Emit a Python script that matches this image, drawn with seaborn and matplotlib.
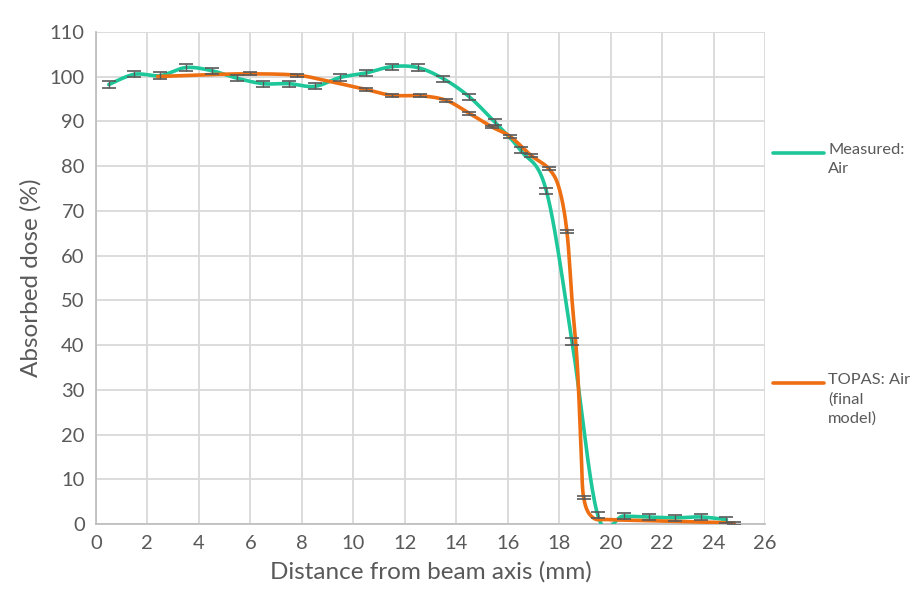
import numpy as np
import pandas as pd
import matplotlib
matplotlib.use("Agg")
import matplotlib.pyplot as plt
from matplotlib.lines import Line2D
import seaborn as sns

# measured depth-dose (every 1 mm)
MEAS_X = [0.5, 1.5, 2.5, 3.5, 4.5, 5.5, 6.5, 7.5, 8.5, 9.5, 10.5, 11.5, 12.5,
          13.5, 14.5, 15.5, 16.5, 17.5, 18.5, 19.5, 20.5, 21.5, 22.5, 23.5, 24.5]
MEAS_Y = [98.2, 100.5, 100.2, 102.0, 101.3, 99.6, 98.4, 98.4, 97.8, 99.8, 100.8,
          102.2, 102.0, 99.5, 95.5, 89.8, 83.5, 74.5, 40.8, 2.0, 1.8, 1.6, 1.4,
          1.6, 1.0]
MEAS_ERR = 0.7

# TOPAS simulation
TOPAS_X = [2.4, 4.3, 6.0, 7.8, 9.0, 10.5, 11.5, 12.6, 13.6, 14.5, 15.4, 16.1,
           16.9, 17.6, 18.0, 18.3, 18.5, 18.7, 18.85, 18.95, 19.3, 20.0, 22.0,
           24.0, 24.8]
TOPAS_Y = [100.0, 100.4, 100.6, 100.3, 99.0, 97.1, 95.8, 95.7, 94.7, 91.8, 88.7,
           86.6, 82.4, 79.4, 75.0, 65.4, 50.0, 36.0, 17.0, 6.0, 1.5, 1.0, 0.7,
           0.4, 0.2]
TOPAS_BAR = [False, False, True, True, False, True, True, True, True, True, True,
             True, True, True, False, True, False, False, False, True, False,
             False, False, False, True]
TOPAS_ERR = 0.3

X_TICKS = list(range(0, 27, 2))
Y_TICKS = list(range(0, 111, 10))

GREEN = "#1DC79A"
ORANGE = "#EE6E12"
TEXT = "#595959"


def _smooth(xs, ys, n=24):
    # Excel style smoothed line (cubic bezier through the points)
    p = np.column_stack([xs, ys]).astype(float)
    pts = []
    for i in range(len(p) - 1):
        p0 = p[i - 1] if i > 0 else p[i]
        p1, p2 = p[i], p[i + 1]
        p3 = p[i + 2] if i + 2 < len(p) else p[i + 1]
        c1 = p1 + (p2 - p0) / 6.0
        c2 = p2 - (p3 - p1) / 6.0
        t = np.linspace(0, 1, n, endpoint=False)[:, None]
        seg = ((1 - t) ** 3) * p1 + 3 * ((1 - t) ** 2) * t * c1 \
            + 3 * (1 - t) * t ** 2 * c2 + t ** 3 * p2
        pts.append(seg)
    pts.append(p[-1:])
    out = np.vstack(pts)
    return out[:, 0], out[:, 1]


sns.set_theme(style="white")
plt.rcParams["font.family"] = ["Lato", "DejaVu Sans"]

fig = plt.figure(figsize=(9.13, 5.99), dpi=100)
ax = fig.add_axes([0.105, 0.125, 0.733, 0.822])

mx, my = _smooth(MEAS_X, MEAS_Y)
tx, ty = _smooth(TOPAS_X, TOPAS_Y)
df = pd.concat([
    pd.DataFrame({"x": mx, "y": my, "series": "Measured"}),
    pd.DataFrame({"x": tx, "y": ty, "series": "TOPAS"}),
])
sns.lineplot(data=df, x="x", y="y", hue="series", sort=False, estimator=None,
             palette={"Measured": GREEN, "TOPAS": ORANGE}, linewidth=2.6,
             legend=False, ax=ax, zorder=3)

ax.errorbar(MEAS_X, MEAS_Y, yerr=MEAS_ERR, fmt="none", ecolor=TEXT,
            elinewidth=1, capsize=5, capthick=1.2, zorder=4)
bx = [x for x, b in zip(TOPAS_X, TOPAS_BAR) if b]
by = [y for y, b in zip(TOPAS_Y, TOPAS_BAR) if b]
ax.errorbar(bx, by, yerr=TOPAS_ERR, fmt="none", ecolor=TEXT,
            elinewidth=1, capsize=5, capthick=1.2, zorder=4)

ax.set_xlim(0, 26)
ax.set_ylim(0, 110)
ax.set_xticks(X_TICKS)
ax.set_yticks(Y_TICKS)
ax.grid(True, color="#d9d9d9", linewidth=1.3)
for s in ["top", "right"]:
    ax.spines[s].set_visible(False)
for s in ["left", "bottom"]:
    ax.spines[s].set_color("#bfbfbf")
    ax.spines[s].set_linewidth(1.3)
ax.tick_params(labelsize=14.5, colors=TEXT, length=0, pad=8)
ax.set_xlabel("Distance from beam axis (mm)", fontsize=17.5, color=TEXT, labelpad=6)
ax.set_ylabel("Absorbed dose (%)", fontsize=17.5, color=TEXT, labelpad=6)

# legend drawn by hand, Excel style
for ypx, col, label in [(153, GREEN, "Measured:\nAir"),
                        (383, ORANGE, "TOPAS: Air\n(final\nmodel)")]:
    yf = 1 - ypx / 599
    fig.add_artist(Line2D([773 / 913, 824 / 913], [yf, yf], color=col,
                          linewidth=2.6, solid_capstyle="round"))
    fig.text(828 / 913, yf + 0.017, label, fontsize=11.8, color=TEXT,
             va="top", ha="left", linespacing=1.45)

fig.savefig("out.png", dpi=100)
